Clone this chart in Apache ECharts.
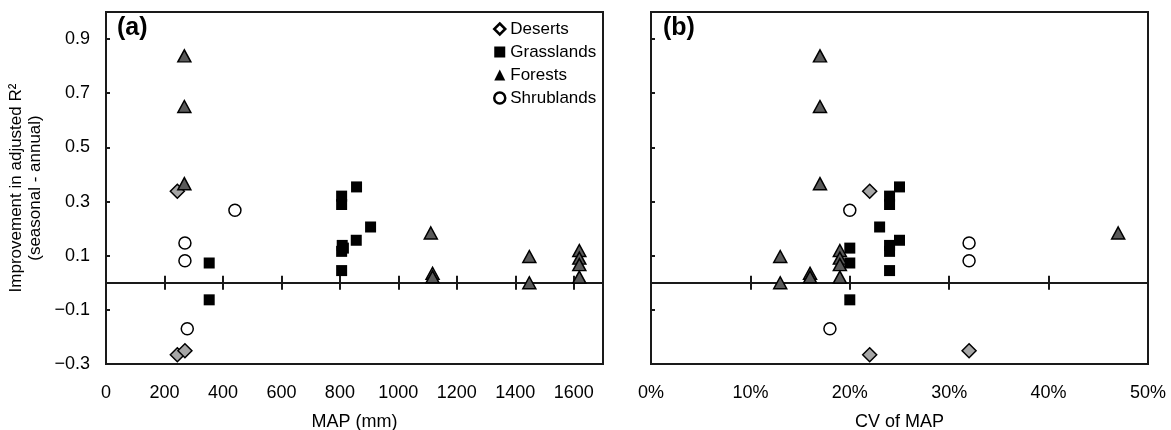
<!DOCTYPE html>
<html><head><meta charset="utf-8">
<script src="https://cdn.jsdelivr.net/npm/echarts@6/dist/echarts.min.js"></script>
<style>html,body{margin:0;padding:0;background:#fff}#c{width:1171px;height:430px}</style>
</head><body><div id="c"></div>
<script>
// ---- data ----
const biomeNames = ['Deserts', 'Grasslands', 'Forests', 'Shrublands'];

const desertMAP = [244, 244, 270];
const desertCV  = [0.22, 0.22, 0.32];
const desertImp = [0.338, -0.266, -0.251];

const grassMAP = [353, 353, 806, 806, 857, 905, 856, 808, 812, 806, 806];
const grassCV  = [0.20, 0.20, 0.24, 0.24, 0.25, 0.23, 0.25, 0.24, 0.20, 0.24, 0.24];
const grassImp = [0.073, -0.063, 0.32, 0.289, 0.354, 0.206, 0.157, 0.138, 0.128, 0.116, 0.045];

const forestMAP = [268, 268, 268, 1117, 1117, 1111, 1448, 1448, 1619, 1619, 1619, 1619];
const forestCV  = [0.17, 0.17, 0.17, 0.16, 0.16, 0.47, 0.13, 0.13, 0.19, 0.19, 0.19, 0.19];
const forestImp = [0.838, 0.651, 0.366, 0.035, 0.022, 0.184, 0.097, 0.0, 0.119, 0.091, 0.067, 0.021];

const shrubMAP = [441, 270, 270, 278];
const shrubCV  = [0.20, 0.32, 0.32, 0.18];
const shrubImp = [0.268, 0.147, 0.081, -0.170];

const yMin = -0.3, yMax = 1.0, yInterval = 0.2;
const mapMin = 0, mapMax = 1700, mapInterval = 200;
const cvMin = 0, cvMax = 0.5, cvInterval = 0.1;

const panelLabels = ['(a)', '(b)'];
const xNames = ['MAP (mm)', 'CV of MAP'];
const yName = 'Improvement in adjusted R\u00B2\n(seasonal - annual)';

// ---- chart ----
const FONT = 'Liberation Sans, Arial, sans-serif';
const pts = (xs, ys) => xs.map((x, i) => [x, ys[i]]);

const styles = {
  Deserts:    { symbol: 'diamond', symbolSize: 14, itemStyle: { color: '#a6a6a6', borderColor: '#000', borderWidth: 1.5, opacity: 1 } },
  Grasslands: { symbol: 'rect', symbolSize: 11, itemStyle: { color: '#000', borderColor: '#000', borderWidth: 0, opacity: 1 } },
  Forests:    { symbol: 'triangle', symbolSize: [13, 12], itemStyle: { color: '#5a5a5a', borderColor: '#000', borderWidth: 1.5, opacity: 1 } },
  Shrublands: { symbol: 'circle', symbolSize: 12, itemStyle: { color: '#fff', borderColor: '#000', borderWidth: 1.5, opacity: 1 } }
};

const xVals = [
  [desertMAP, grassMAP, forestMAP, shrubMAP],
  [desertCV, grassCV, forestCV, shrubCV]
];
const yVals = [desertImp, grassImp, forestImp, shrubImp];

const grids = [
  { left: 106, top: 12, width: 497, height: 352, show: true, borderColor: '#1a1a1a', borderWidth: 2, backgroundColor: 'transparent', containLabel: false, outerBoundsMode: 'none' },
  { left: 651, top: 12, width: 497, height: 352, show: true, borderColor: '#1a1a1a', borderWidth: 2, backgroundColor: 'transparent', containLabel: false, outerBoundsMode: 'none' }
];

const xAxes = [];
const yAxes = [];
[0, 1].forEach(g => {
  const isMap = g === 0;
  const base = {
    type: 'value', gridIndex: g,
    min: isMap ? mapMin : cvMin, max: isMap ? mapMax : cvMax, interval: isMap ? mapInterval : cvInterval,
    splitLine: { show: false }
  };
  // labels axis (bottom)
  xAxes.push(Object.assign({}, base, {
    position: 'bottom',
    axisLine: { show: false, onZero: false },
    axisTick: { show: false },
    axisLabel: {
      show: true, fontSize: 18, color: '#000', fontFamily: FONT, margin: 20, showMaxLabel: !isMap,
      formatter: v => isMap ? String(Math.round(v)) : Math.round(v * 100) + '%'
    },
    name: xNames[g], nameLocation: 'middle', nameGap: 49,
    nameTextStyle: { fontSize: 18, color: '#000', fontFamily: FONT }
  }));
  // zero line with ticks (upwards)
  xAxes.push(Object.assign({}, base, {
    position: 'bottom',
    axisLine: { show: true, onZero: true, onZeroAxisIndex: g, lineStyle: { color: '#1a1a1a', width: 2 } },
    axisTick: { show: true, inside: true, length: 7, lineStyle: { color: '#1a1a1a', width: 2 } },
    axisLabel: { show: false }
  }));
  // zero line with ticks (downwards)
  xAxes.push(Object.assign({}, base, {
    position: 'top',
    axisLine: { show: true, onZero: true, onZeroAxisIndex: g, lineStyle: { color: '#1a1a1a', width: 2 } },
    axisTick: { show: true, inside: true, length: 7, lineStyle: { color: '#1a1a1a', width: 2 } },
    axisLabel: { show: false }
  }));
  yAxes.push({
    type: 'value', gridIndex: g, position: 'left',
    min: yMin, max: yMax, interval: yInterval,
    splitLine: { show: false },
    axisLine: { show: false, onZero: false },
    axisTick: { show: true, inside: true, length: 4, lineStyle: { color: '#1a1a1a', width: 2 } },
    axisLabel: {
      show: g === 0, fontSize: 18, color: '#000', fontFamily: FONT, margin: 16, showMaxLabel: false,
      formatter: v => v.toFixed(1).replace('-', '\u2212')
    },
    name: g === 0 ? yName : '', nameLocation: 'middle', nameGap: 61, nameRotate: 90,
    nameTextStyle: { fontSize: 17, lineHeight: 19, color: '#000', fontFamily: FONT }
  });
});

const series = [];
[0, 1].forEach(g => {
  biomeNames.forEach((name, b) => {
    const s = styles[name];
    series.push({
      type: 'scatter', name: name,
      xAxisIndex: g * 3, yAxisIndex: g,
      symbol: s.symbol, symbolSize: s.symbolSize, itemStyle: s.itemStyle,
      data: pts(xVals[g][b], yVals[b]),
      z: 5
    });
  });
});

const legendIcons = {
  Deserts:    { icon: 'diamond', itemStyle: { color: '#fff', borderColor: '#000', borderWidth: 2.5, opacity: 1 } },
  Grasslands: { icon: 'rect', itemStyle: { color: '#000', borderColor: '#000', borderWidth: 0, opacity: 1 } },
  Forests:    { icon: 'triangle', itemStyle: { color: '#000', borderColor: '#000', borderWidth: 0, opacity: 1 } },
  Shrublands: { icon: 'circle', itemStyle: { color: '#fff', borderColor: '#000', borderWidth: 2.5, opacity: 1 } }
};

const option = {
  animation: false,
  backgroundColor: '#fff',
  textStyle: { fontFamily: FONT },
  grid: grids,
  xAxis: xAxes,
  yAxis: yAxes,
  legend: {
    left: 488, top: 15, orient: 'vertical',
    itemWidth: 11, itemHeight: 11, itemGap: 5,
    textStyle: { fontSize: 17, lineHeight: 18, color: '#000', fontFamily: FONT },
    data: biomeNames.map(n => Object.assign({ name: n }, legendIcons[n]))
  },
  graphic: [
    { type: 'text', left: 117, top: 16, style: { text: panelLabels[0], font: 'bold 25px ' + FONT, fill: '#000' } },
    { type: 'text', left: 663, top: 16, style: { text: panelLabels[1], font: 'bold 25px ' + FONT, fill: '#000' } }
  ],
  series: series
};

const chart = echarts.init(document.getElementById('c'), null, { renderer: 'canvas' });
chart.setOption(option);
</script>
</body></html>
